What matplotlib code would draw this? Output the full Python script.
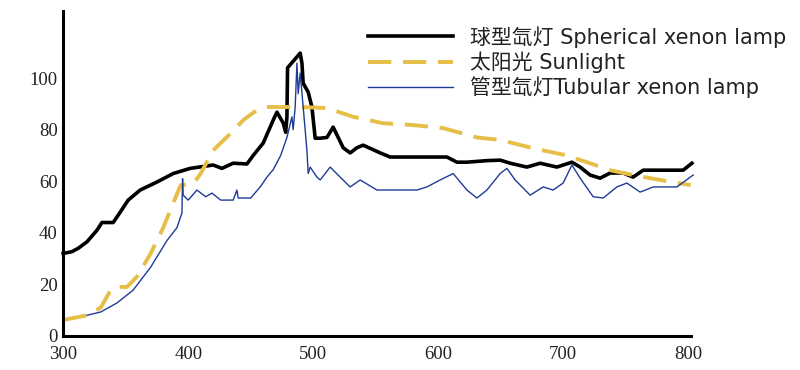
import matplotlib
matplotlib.use("Agg")
from matplotlib import pyplot as plt

# wavelength (nm) / relative intensity
sph_x = [300, 307, 312, 319, 327, 331, 340, 345.6, 352, 361.6, 375, 388, 401.6, 420, 427,
         436, 447, 452, 460, 468, 471, 476, 478, 479, 479.5, 489.6, 491, 492, 496, 499,
         501.6, 505.6, 511, 516, 524, 529.6, 535, 540, 553.6, 561.6, 607, 615, 623, 639,
         649.6, 657.6, 671, 681.6, 695, 707, 713.6, 721.6, 729.6, 737.6, 748, 756, 764,
         796, 803]
sph_y = [32, 32.7, 34, 36.5, 41, 44, 44, 48, 52.7, 56.6, 59.7, 63, 65, 66.3, 65,
         67, 66.7, 70, 74.8, 83.7, 86.8, 82.6, 79, 85, 104, 109.7, 105.8, 98, 94.6, 88.8,
         76.7, 76.7, 77, 81, 73, 71, 73, 74, 71, 69.4, 69.4, 67.4, 67.4, 68,
         68.2, 67, 65.5, 67, 65.5, 67.4, 65.5, 62.4, 61.2, 63.2, 63.2, 61.6, 64.3,
         64.3, 67]

sun_x = [300, 319, 330, 338, 342, 351, 359, 370, 380, 388, 394, 404, 410, 420, 434, 444,
         455, 463, 490, 511, 532, 556, 580, 604, 631, 650, 676, 703, 719, 737.6, 756,
         777.6, 802]
sun_y = [6.2, 8, 11, 17.8, 19, 19, 23, 32, 42, 51.5, 58.5, 59, 63, 72, 78.6, 83.7,
         87.6, 88.8, 88.8, 88.4, 85, 82.5, 81.8, 80.6, 77, 76, 72.8, 70, 67.4, 64.3, 62.4,
         60.5, 58.5]

tub_x = [319, 330, 343, 356, 370, 383, 391, 395, 395.5, 396, 400, 407, 414, 419, 426,
         436, 439, 440, 450, 457.6, 463, 468, 474, 479, 483, 484, 485.6, 487, 488, 489.6,
         492, 495, 496, 497.6, 503, 505.6, 513.6, 521.6, 529.6, 537.6, 551, 583, 591,
         601.6, 612, 623, 631, 639, 649.6, 655, 661.6, 673.6, 684, 692, 700, 707, 713.6,
         724, 732, 743, 751, 761.6, 772, 791, 804]
tub_y = [8, 9.3, 12.8, 17.8, 26.7, 37, 42, 47.7, 61, 54.6, 52.7, 56.6, 54, 55.4, 52.7,
         52.7, 56.6, 53.5, 53.5, 57.8, 61.6, 64.5, 70, 77, 85, 80, 88.8, 105.8, 94, 102,
         88.8, 72, 63, 65.5, 61.6, 60.5, 65.5, 61.6, 57.8, 60.5, 56.6, 56.6, 57.8,
         60.5, 63, 56.6, 53.5, 56.6, 63, 65, 60.5, 54.6, 57.8, 56.6, 59.3, 66.3, 61.2,
         54, 53.5, 57.8, 59.3, 55.8, 57.8, 57.8, 62.4]

labels = ["球型氙灯 Spherical xenon lamp", "太阳光 Sunlight", "管型氙灯Tubular xenon lamp"]
xticks = [300, 400, 500, 600, 700, 800]
yticks = [0, 20, 40, 60, 80, 100]

fig = plt.figure(figsize=(8, 3.7), dpi=100)
ax = fig.add_axes([0.079, 0.092, 0.789, 0.878])

ax.plot(sph_x, sph_y, color="black", lw=2.6, label=labels[0], clip_on=False)
ax.plot(sun_x, sun_y, color="#E6BF48", lw=2.8, dashes=(6, 3), label=labels[1], clip_on=False)
ax.plot(tub_x, tub_y, color="#1f3b96", lw=1.0, label=labels[2], clip_on=False)

ax.set_xlim(300, 805)
ax.set_ylim(0, 126)
ax.spines["top"].set_visible(False)
ax.spines["right"].set_visible(False)
ax.spines["left"].set_linewidth(2.2)
ax.spines["bottom"].set_linewidth(2.2)
ax.spines["bottom"].set_bounds(300, 802)

ax.set_xticks(xticks)
ax.set_yticks(yticks)
ax.tick_params(length=0, labelsize=13.5, labelcolor="#222222")
ax.tick_params(axis="x", pad=7)
ax.tick_params(axis="y", pad=4)
for t in ax.get_xticklabels() + ax.get_yticklabels():
    t.set_family("Liberation Serif")

leg = fig.legend(loc="upper left", bbox_to_anchor=(0.447, 0.958), frameon=False,
                 handlelength=4.1, handletextpad=0.8, labelspacing=0.18, borderpad=0,
                 prop={"family": ["DejaVu Sans", "Noto Sans CJK SC"], "size": 15})
for t in leg.get_texts():
    t.set_color("#222222")

fig.savefig("out.png", dpi=100)
